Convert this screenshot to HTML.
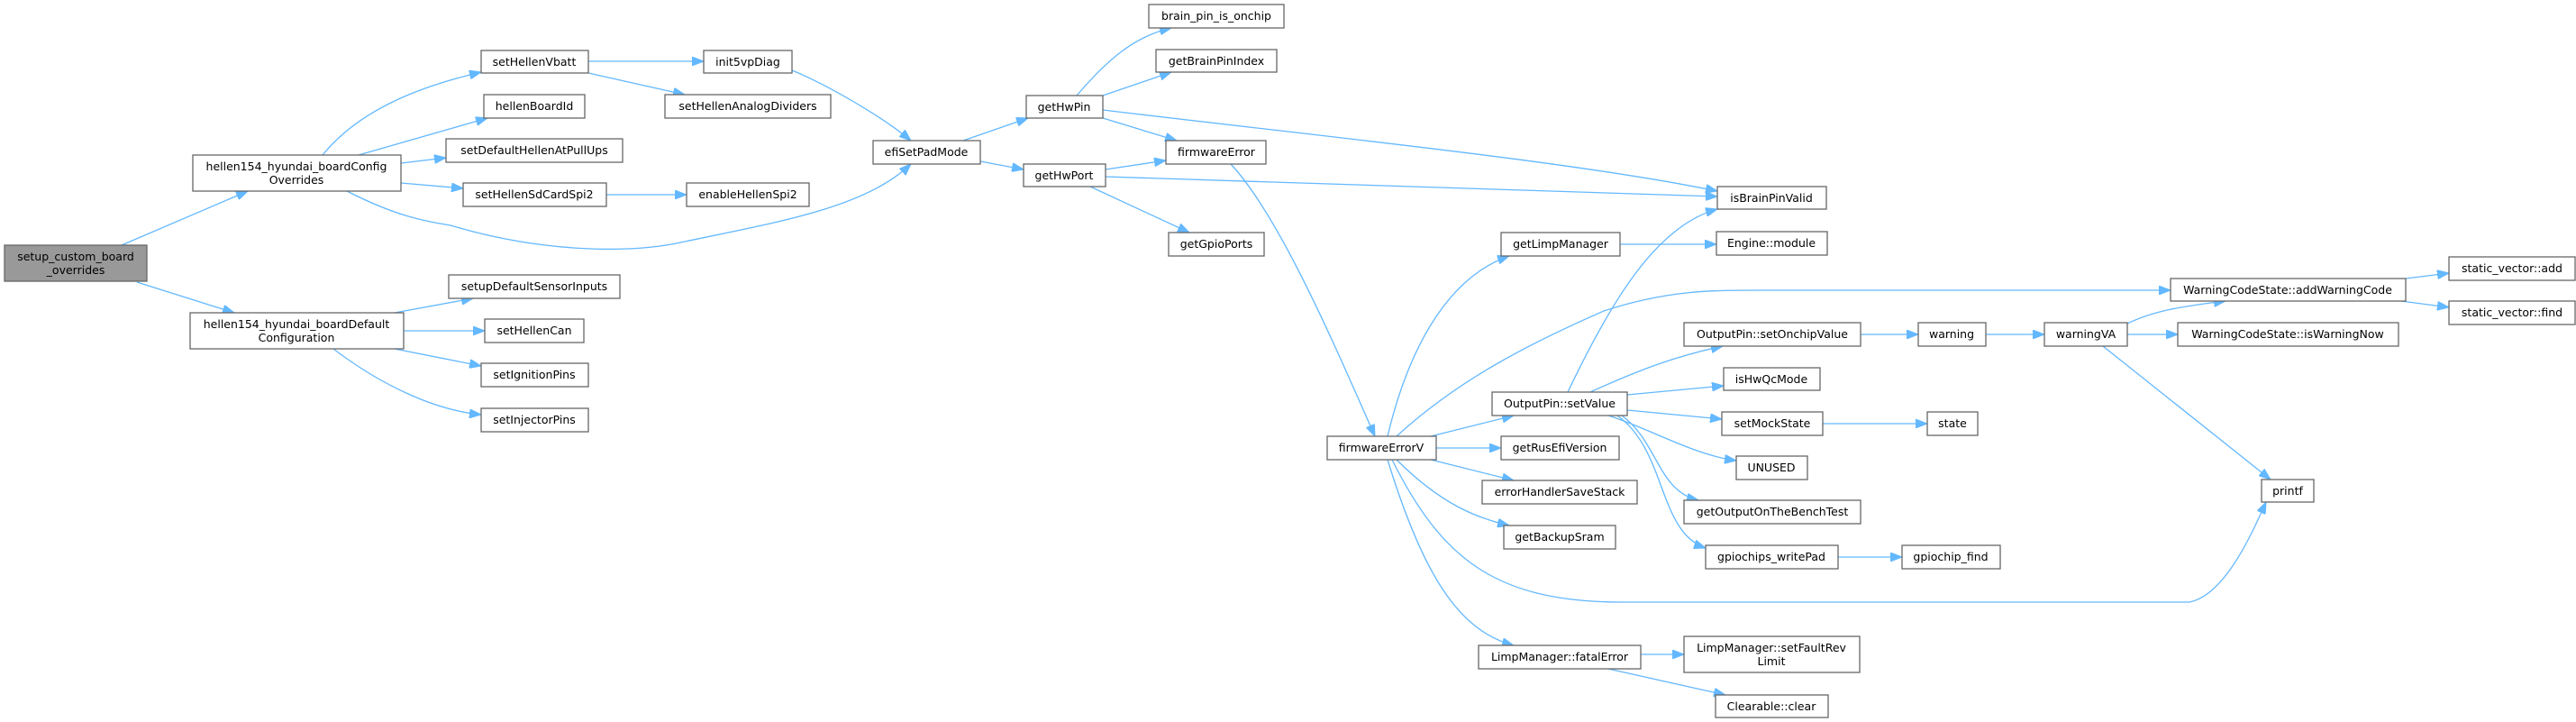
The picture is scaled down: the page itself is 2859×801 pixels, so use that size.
<!DOCTYPE html>
<html><head><meta charset="utf-8"><style>
html,body{margin:0;padding:0;background:#fff;}
svg{display:block;}
text{font-family:"DejaVu Sans","Liberation Sans",sans-serif;font-size:12.5px;fill:#000;text-anchor:middle;}
rect{fill:#fff;stroke:#666;stroke-width:1.3;}
path{fill:none;stroke:#63b8ff;stroke-width:1.3;}
</style></head><body>
<svg width="2859" height="801" viewBox="0 0 2859 801" xmlns="http://www.w3.org/2000/svg">
<defs><marker id="a" markerWidth="14" markerHeight="10" refX="13" refY="5" orient="auto" markerUnits="userSpaceOnUse"><polygon points="0,0 13,5 0,10" fill="#63b8ff" stroke="#63b8ff"/></marker></defs>
<g marker-end="url(#a)">
<path d="M135,272 L275,212"/>
<path d="M152,313 L260,347"/>
<path d="M358,172 C400,120 470,95 534,80"/>
<path d="M398,172 L541,131"/>
<path d="M445,181 L495,175"/>
<path d="M445,203 L514,209"/>
<path d="M385,212 C440,240 470,245 500,250 C600,280 700,282 760,268 C870,245 960,230 1011,182"/>
<path d="M653,68 L781,68"/>
<path d="M653,81 L760,105"/>
<path d="M879,78 C920,95 980,130 1011,156"/>
<path d="M673,216 L762,216"/>
<path d="M438,347 L525,331"/>
<path d="M448,367 L538,367"/>
<path d="M438,387 L534,406"/>
<path d="M370,387 C420,425 480,455 534,460"/>
<path d="M1069,156 L1141,131"/>
<path d="M1088,179 L1136,188"/>
<path d="M1195,106 C1230,65 1260,40 1300,31"/>
<path d="M1224,106 L1300,80"/>
<path d="M1224,131 L1306,156"/>
<path d="M1224,122 C1500,155 1750,180 1906,212"/>
<path d="M1227,188 L1294,178"/>
<path d="M1227,196 L1906,218"/>
<path d="M1210,207 L1320,258"/>
<path d="M1366,182 C1420,240 1480,380 1526,484"/>
<path d="M1540,484 C1560,400 1600,310 1675,284"/>
<path d="M1550,484 C1620,420 1700,380 1780,345 C1850,322 1900,322 1950,322 L2409,322"/>
<path d="M1588,484 L1680,461"/>
<path d="M1594,497 L1666,497"/>
<path d="M1588,510 L1680,533"/>
<path d="M1550,510 C1600,560 1640,575 1675,583"/>
<path d="M1540,510 C1580,640 1620,700 1680,716"/>
<path d="M1545,510 C1600,620 1660,668 1800,668 L2430,668 C2470,660 2500,590 2515,557"/>
<path d="M1740,435 C1790,330 1840,250 1906,232"/>
<path d="M1765,435 C1820,410 1860,395 1912,384"/>
<path d="M1806,438 L1913,428"/>
<path d="M1806,455 L1911,465"/>
<path d="M1785,461 C1830,475 1880,505 1927,511"/>
<path d="M1800,461 C1840,490 1840,545 1885,555"/>
<path d="M1795,461 C1850,500 1840,590 1893,608"/>
<path d="M2065,371 L2129,371"/>
<path d="M2204,371 L2269,371"/>
<path d="M2361,359 C2390,345 2420,340 2470,334"/>
<path d="M2361,371 L2417,371"/>
<path d="M2334,384 L2520,532"/>
<path d="M2670,309 L2718,303"/>
<path d="M2665,334 L2718,341"/>
<path d="M1798,271 L1905,271"/>
<path d="M2023,470 L2139,470"/>
<path d="M2040,618 L2111,618"/>
<path d="M1821,726 L1869,726"/>
<path d="M1785,742 L1915,771"/>
</g>
<rect x="5" y="272" width="158" height="40" style="fill:#999"/><text x="84" y="289">setup_custom_board</text><text x="84" y="304">_overrides</text>
<rect x="214" y="172" width="231" height="40"/><text x="329" y="189">hellen154_hyundai_boardConfig</text><text x="329" y="204">Overrides</text>
<rect x="211" y="347" width="237" height="40"/><text x="329" y="364">hellen154_hyundai_boardDefault</text><text x="329" y="379">Configuration</text>
<rect x="534" y="56" width="119" height="25"/><text x="593" y="73">setHellenVbatt</text>
<rect x="537" y="105" width="112" height="26"/><text x="593" y="122">hellenBoardId</text>
<rect x="495" y="154" width="196" height="26"/><text x="593" y="171">setDefaultHellenAtPullUps</text>
<rect x="514" y="203" width="159" height="26"/><text x="593" y="220">setHellenSdCardSpi2</text>
<rect x="781" y="56" width="98" height="25"/><text x="830" y="73">init5vpDiag</text>
<rect x="738" y="105" width="184" height="26"/><text x="830" y="122">setHellenAnalogDividers</text>
<rect x="762" y="203" width="136" height="26"/><text x="830" y="220">enableHellenSpi2</text>
<rect x="498" y="305" width="190" height="26"/><text x="593" y="322">setupDefaultSensorInputs</text>
<rect x="538" y="354" width="110" height="26"/><text x="593" y="371">setHellenCan</text>
<rect x="534" y="403" width="119" height="26"/><text x="593" y="420">setIgnitionPins</text>
<rect x="534" y="453" width="119" height="26"/><text x="593" y="470">setInjectorPins</text>
<rect x="969" y="156" width="119" height="26"/><text x="1028" y="173">efiSetPadMode</text>
<rect x="1275" y="5" width="150" height="26"/><text x="1350" y="22">brain_pin_is_onchip</text>
<rect x="1283" y="55" width="134" height="25"/><text x="1350" y="72">getBrainPinIndex</text>
<rect x="1139" y="106" width="85" height="25"/><text x="1181" y="123">getHwPin</text>
<rect x="1294" y="156" width="111" height="26"/><text x="1350" y="173">firmwareError</text>
<rect x="1136" y="182" width="91" height="25"/><text x="1181" y="199">getHwPort</text>
<rect x="1297" y="258" width="106" height="26"/><text x="1350" y="275">getGpioPorts</text>
<rect x="1666" y="258" width="132" height="26"/><text x="1732" y="275">getLimpManager</text>
<rect x="1473" y="484" width="121" height="26"/><text x="1533" y="501">firmwareErrorV</text>
<rect x="1656" y="435" width="150" height="26"/><text x="1731" y="452">OutputPin::setValue</text>
<rect x="1666" y="484" width="131" height="26"/><text x="1731" y="501">getRusEfiVersion</text>
<rect x="1645" y="533" width="172" height="26"/><text x="1731" y="550">errorHandlerSaveStack</text>
<rect x="1669" y="583" width="124" height="26"/><text x="1731" y="600">getBackupSram</text>
<rect x="1641" y="716" width="180" height="26"/><text x="1731" y="733">LimpManager::fatalError</text>
<rect x="1906" y="207" width="121" height="25"/><text x="1966" y="224">isBrainPinValid</text>
<rect x="1905" y="257" width="123" height="26"/><text x="1966" y="274">Engine::module</text>
<rect x="2718" y="285" width="140" height="26"/><text x="2788" y="302">static_vector::add</text>
<rect x="2409" y="309" width="261" height="25"/><text x="2539" y="326">WarningCodeState::addWarningCode</text>
<rect x="2718" y="334" width="140" height="26"/><text x="2788" y="351">static_vector::find</text>
<rect x="1869" y="358" width="196" height="26"/><text x="1967" y="375">OutputPin::setOnchipValue</text>
<rect x="2129" y="358" width="75" height="26"/><text x="2166" y="375">warning</text>
<rect x="2269" y="358" width="92" height="26"/><text x="2315" y="375">warningVA</text>
<rect x="2417" y="358" width="245" height="26"/><text x="2539" y="375">WarningCodeState::isWarningNow</text>
<rect x="1913" y="408" width="107" height="25"/><text x="1966" y="425">isHwQcMode</text>
<rect x="1911" y="457" width="112" height="26"/><text x="1967" y="474">setMockState</text>
<rect x="2139" y="457" width="56" height="26"/><text x="2167" y="474">state</text>
<rect x="1927" y="506" width="79" height="26"/><text x="1966" y="523">UNUSED</text>
<rect x="1869" y="555" width="196" height="26"/><text x="1967" y="572">getOutputOnTheBenchTest</text>
<rect x="2510" y="532" width="58" height="25"/><text x="2539" y="549">printf</text>
<rect x="1893" y="605" width="147" height="26"/><text x="1966" y="622">gpiochips_writePad</text>
<rect x="2111" y="605" width="109" height="26"/><text x="2165" y="622">gpiochip_find</text>
<rect x="1869" y="706" width="195" height="40"/><text x="1966" y="723">LimpManager::setFaultRev</text><text x="1966" y="738">Limit</text>
<rect x="1904" y="771" width="125" height="25"/><text x="1966" y="788">Clearable::clear</text>
</svg>
</body></html>
